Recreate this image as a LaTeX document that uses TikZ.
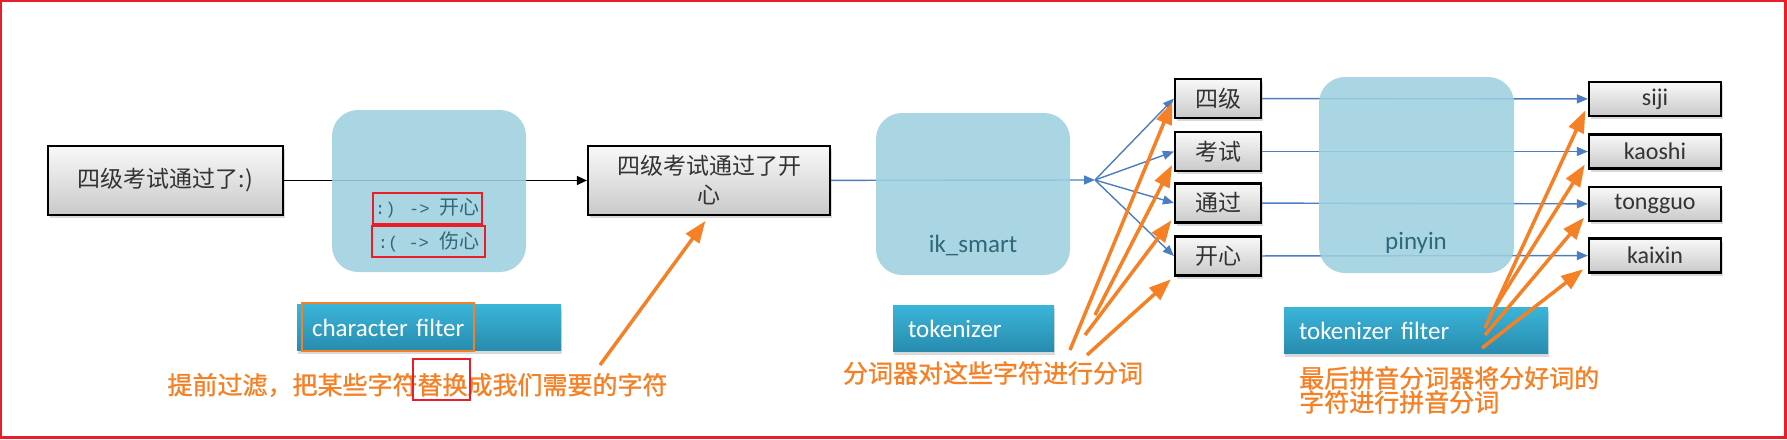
\documentclass[tikz,border=0pt]{standalone}
\usepackage{fontspec}
\setmainfont{Carlito}
\newfontfamily\cjk{Noto Sans CJK SC}
\newfontfamily\cjknote{Noto Sans CJK SC}[FakeBold=1.2]
\newfontfamily\rulemono{Liberation Mono}
\usepackage{tikz}
\usetikzlibrary{arrows.meta}
\usetikzlibrary{shadows}
\usepackage{xcolor}
\definecolor{ColOrange}{RGB}{245,128,37}
\definecolor{ColRed}{RGB}{232,30,40}
\definecolor{ColBlue}{RGB}{74,126,193}
\definecolor{ColBox}{RGB}{158,208,224}
\definecolor{ColTeal}{RGB}{46,104,122}
\definecolor{ColBarTop}{RGB}{58,180,216}
\definecolor{ColBarBot}{RGB}{40,140,175}
\newcommand{\RuleAscii}[1]{{\rulemono\fontsize{17}{24}\selectfont #1}}
\tikzstyle{WordBox}=[rectangle,draw=black,line width=2.2pt,top color=gray!5,bottom color=gray!42,
drop shadow={shadow xshift=2pt,shadow yshift=-3pt,opacity=.3},inner sep=0pt,align=center,
text=black!80,font=\cjk\fontsize{23}{29}\selectfont]
\tikzstyle{PinyinBox}=[WordBox,font=\fontsize{24}{28}\selectfont,minimum width=132,minimum height=34]
\tikzstyle{TokenBox}=[WordBox,minimum width=86,minimum height=39]
\tikzstyle{ProcBox}=[rectangle,rounded corners=26pt,fill=ColBox,fill opacity=.88]
\tikzstyle{ProcLabel}=[text=ColTeal,font=\fontsize{25}{30}\selectfont,inner sep=0pt]
\tikzstyle{RuleText}=[draw=ColRed,line width=2.5pt,text=ColTeal,inner sep=0pt,minimum height=31,
font=\cjk\fontsize{20}{24}\selectfont]
\tikzstyle{StageBar}=[rectangle,top color=ColBarTop,bottom color=ColBarBot,minimum height=46,
drop shadow={shadow xshift=1pt,shadow yshift=-3pt,opacity=.3},text=white,align=left,
inner xsep=15pt,font=\fontsize{25}{30}\selectfont]
\tikzstyle{NoteText}=[text=ColOrange,inner sep=0pt,font=\cjknote\fontsize{25}{24}\selectfont]
\tikzstyle{MarkFrame}=[rectangle,line width=2.5pt,inner sep=0pt]
\tikzstyle{BlackLink}=[black,line width=1.3pt,-{Triangle[length=10pt,width=9pt]}]
\tikzstyle{BlueLink}=[ColBlue,line width=1.4pt,-{Triangle[length=11pt,width=9pt]}]
\tikzstyle{OrangeArrow}=[ColOrange,line width=3.5pt,-{Triangle[length=22pt,width=16pt]}]

\begin{document}
\begin{tikzpicture}[x=1pt,y=-1pt]
    \useasboundingbox (0,0) rectangle (1787,439);
    \draw[ColRed,line width=2.5pt] (1.2,1.2) rectangle (1785.5,437.5);
    % input and filtered text
    \node[WordBox,minimum width=235,minimum height=69](b1)at(165.5,180.5){四级考试通过了:)};
    \node[WordBox,minimum width=242,minimum height=69](b2)at(709,180.5){四级考试通过了开\\心};
    % tokens
    \node[TokenBox](s1)at(1218,98.5){四级};
    \node[TokenBox](s2)at(1218,151.5){考试};
    \node[TokenBox](s3)at(1218,203){通过};
    \node[TokenBox](s4)at(1218,256){开心};
    \node[PinyinBox](r1)at(1655,99){siji};
    \node[PinyinBox](r2)at(1655,151.5){kaoshi};
    \node[PinyinBox](r3)at(1655,204){tongguo};
    \node[PinyinBox](r4)at(1655,255.5){kaixin};
    \coordinate(fan)at(1095,180);
    \draw[BlackLink](b1)--(b2);
    \draw[BlueLink](b2)--(fan);
    \draw[BlueLink](fan)--(s1.west);
    \draw[BlueLink](fan)--(s2.west);
    \draw[BlueLink](fan)--(s3.west);
    \draw[BlueLink](fan)--(s4.west);
    \draw[BlueLink](s1)--(r1);
    \draw[BlueLink](s2)--(r2);
    \draw[BlueLink](s3)--(r3);
    \draw[BlueLink](s4)--(r4);
    % analyzer stages
    \node[ProcBox,minimum width=194,minimum height=162](p1)at(429,191){};
    \node[ProcBox,minimum width=194,minimum height=162](p2)at(973,194){};
    \node[ProcBox,minimum width=195,minimum height=196](p3)at(1416.5,175){};
    \node[RuleText,minimum width=109](m1)at(427.5,208.5){\RuleAscii{:) -> }开心};
    \node[RuleText,minimum width=113](m2)at(428.5,241.5){\RuleAscii{:( -> }伤心};
    \node[ProcLabel](l2)at(973,245){ik\_smart};
    \node[ProcLabel](l3)at(1416,243){pinyin};
    \node[StageBar,text width=234](c1)at(429,327.5){character filter};
    \node[MarkFrame,draw=ColOrange,minimum width=172,minimum height=48](c1mark)at(388,327){};
    \node[StageBar,text width=131](c2)at(973.5,328.5){tokenizer};
    \node[StageBar,text width=234](c3)at(1416,330.5){tokenizer filter};
    % notes
    \node[NoteText](n1)at(417.5,385){提前过滤，把某些字符替换成我们需要的字符};
    \node[MarkFrame,draw=ColRed,minimum width=57,minimum height=41](n1mark)at(441.5,379.5){};
    \node[NoteText](n2)at(993,373){分词器对这些字符进行分词};
    \node[NoteText,anchor=west,align=left](n3)at(1299,390){最后拼音分词器将分好词的\\字符进行拼音分词};
    \coordinate(t1)at(600,365);
    \coordinate(t2)at(1070,350);
    \coordinate(t3)at(1095,315);
    \coordinate(t4)at(1085,335);
    \coordinate(t5)at(1087,355);
    \coordinate(t6)at(1485,328);
    \coordinate(t7)at(1490,315);
    \coordinate(t8)at(1485,335);
    \coordinate(t9)at(1482,348);
    \draw[OrangeArrow,shorten >=6pt](t1)--(b2.south);
    \draw[OrangeArrow,shorten >=4pt](t2)--(s1.west);
    \draw[OrangeArrow,shorten >=4pt](t3)--([yshift=-10pt]s2.west);
    \draw[OrangeArrow,shorten >=4pt](t4)--([yshift=-14pt]s3.west);
    \draw[OrangeArrow,shorten >=4pt](t5)--(s4.south west);
    \draw[OrangeArrow,shorten >=6pt](t6)--([yshift=-6pt]r1.west);
    \draw[OrangeArrow,shorten >=6pt](t7)--([yshift=-8pt]r2.west);
    \draw[OrangeArrow,shorten >=6pt](t8)--([yshift=-9pt]r3.west);
    \draw[OrangeArrow,shorten >=6pt](t9)--([yshift=-10pt]r4.west);
\end{tikzpicture}
\end{document}
